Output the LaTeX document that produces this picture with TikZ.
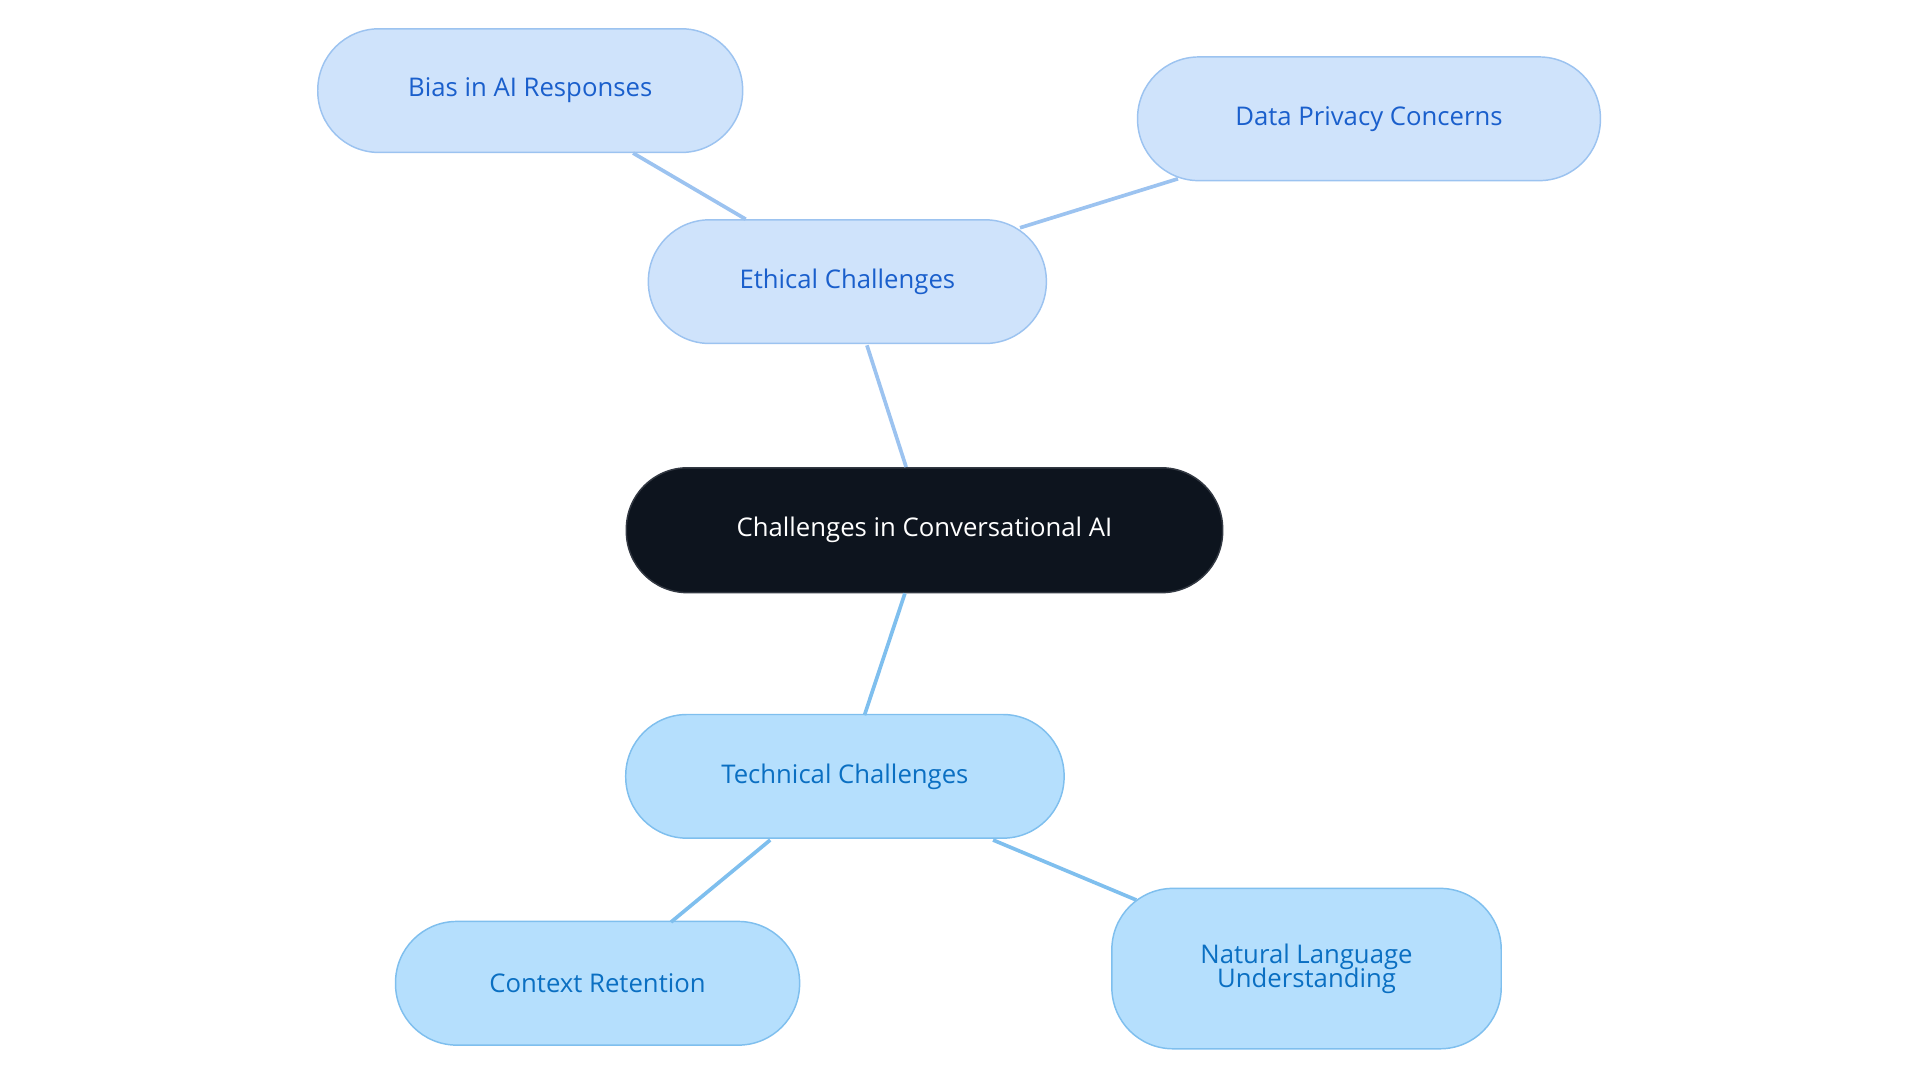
\documentclass[tikz,border=0pt]{standalone}
\usepackage{fontspec}
\setmainfont{Open Sans}
\begin{document}
\begin{tikzpicture}[x=1pt,y=-1pt,
 base/.style={rounded corners=50pt,line width=1.2pt,font=\fontsize{21}{24}\selectfont,align=center,inner sep=0pt},
 eth/.style={base,fill={rgb,255:red,207;green,227;blue,251},draw={rgb,255:red,156;green,195;blue,240},text={rgb,255:red,26;green,95;blue,204}},
 tech/.style={base,fill={rgb,255:red,181;green,223;blue,253},draw={rgb,255:red,127;green,191;blue,238},text={rgb,255:red,10;green,111;blue,194}},
 ce/.style={draw={rgb,255:red,156;green,195;blue,240},line width=3pt},
 ct/.style={draw={rgb,255:red,127;green,191;blue,238},line width=3pt}]
\useasboundingbox (0,0) rectangle (1568,884);
\node[base,fill={rgb,255:red,13;green,20;blue,30},draw={rgb,255:red,50;green,56;blue,66},text=white,minimum width=487pt,minimum height=102pt] (c) at (755,433) {Challenges in Conversational AI};
\node[eth,minimum width=325pt,minimum height=101pt] (e) at (692,230) {Ethical Challenges};
\node[eth,minimum width=347pt,minimum height=101pt] (b) at (433,74) {Bias in AI Responses};
\node[eth,minimum width=378pt,minimum height=101pt] (d) at (1118,97) {Data Privacy Concerns};
\node[tech,minimum width=358pt,minimum height=101pt] (t) at (690,634) {Technical Challenges};
\node[tech,minimum width=330pt,minimum height=101pt] (x) at (488,803) {Context Retention};
\node[tech,minimum width=318pt,minimum height=131pt] (n) at (1067,791) {Natural Language\\[-4pt]Understanding};
\begin{scope}[on background layer/.style={}]
\end{scope}
\draw[ce] (c.north) ++(-15,0) -- (708,282);
\draw[ce] (609,179) -- (517,125);
\draw[ce] (833,186) -- (962,146);
\draw[ct] (c.south) ++(-16,0) -- (706,584);
\draw[ct] (629,686) -- (548,753);
\draw[ct] (811,686) -- (928,735);
\end{tikzpicture}
\end{document}
